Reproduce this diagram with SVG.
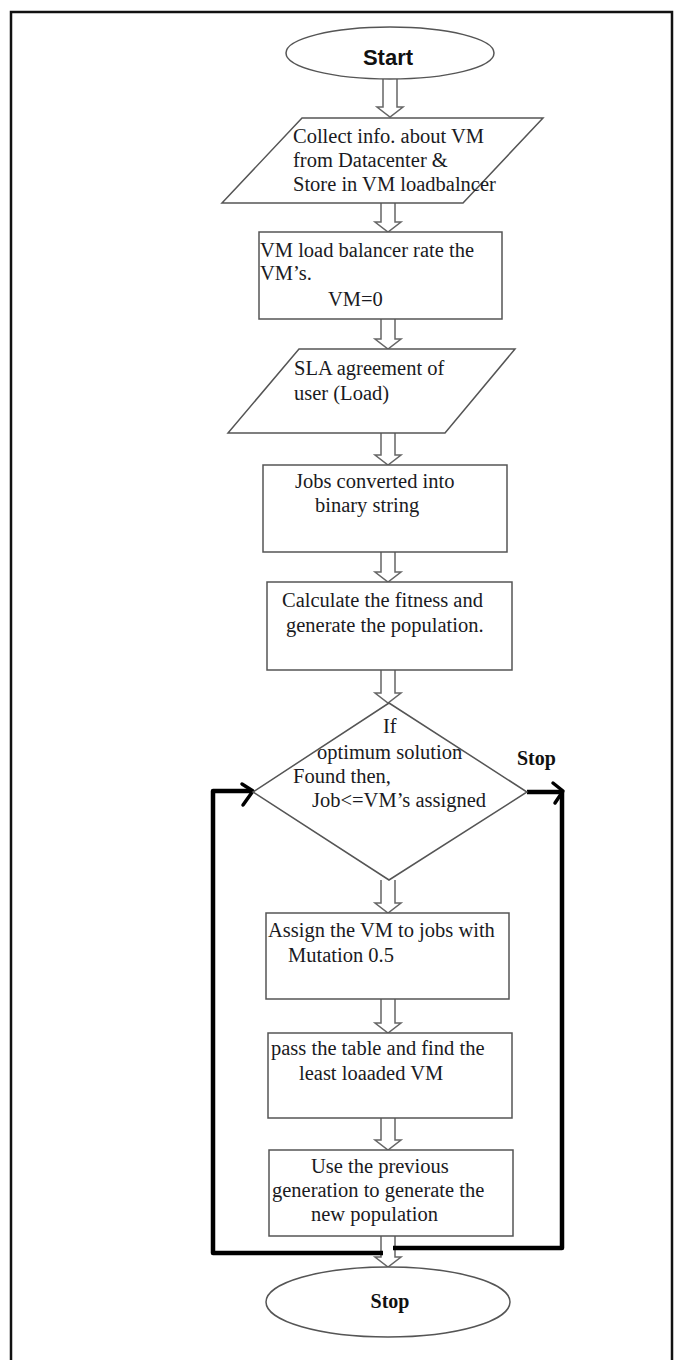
<svg xmlns="http://www.w3.org/2000/svg" width="682" height="1360" viewBox="0 0 682 1360">
<style>
.shape{fill:#fff;stroke:#555;stroke-width:1.5}
.barrow{fill:#fff;stroke:#666;stroke-width:1.5;stroke-linejoin:miter}
.loop{fill:none;stroke:#000;stroke-width:4.5;stroke-linejoin:round}
.head{fill:none;stroke:#000;stroke-width:3.5;stroke-linecap:round;stroke-linejoin:round}
.t{font-family:"Liberation Serif",serif;font-size:20.5px;fill:#1a1a22}
.tb{font-family:"Liberation Serif",serif;font-size:20px;font-weight:bold;fill:#111}
.ts{font-family:"Liberation Sans",Arial,sans-serif;font-size:22px;font-weight:bold;fill:#111}
</style>
<rect x="0" y="0" width="682" height="1360" fill="#fff"/>
<path d="M11,1360 V12 H672 V1360" fill="none" stroke="#111" stroke-width="2.5"/>

<g id="connectors">
  <path class="barrow" d="M383,79 V107 H377 L390,117 L403,107 H397 V79"/>
  <path class="barrow" d="M381,203 V222 H375 L388,232 L401,222 H395 V203"/>
  <path class="barrow" d="M381,319 V339 H375 L388,349 L401,339 H395 V319"/>
  <path class="barrow" d="M381,433 V455 H375 L388,465 L401,455 H395 V433"/>
  <path class="barrow" d="M381,552 V572 H375 L388,582 L401,572 H395 V552"/>
  <path class="barrow" d="M381,670 V693 H375 L388,703 L401,693 H395 V670"/>
  <path class="barrow" d="M381,880 V903 H375 L388,913 L401,903 H395 V880"/>
  <path class="barrow" d="M381,999 V1023 H375 L388,1033 L401,1023 H395 V999"/>
  <path class="barrow" d="M381,1118 V1140 H375 L388,1150 L401,1140 H395 V1118"/>
  <path class="barrow" d="M381,1236 V1257 H375 L388,1267 L401,1257 H395 V1236"/>
  <path class="loop" d="M383,1253 H213 V791 H251"/>
  <path class="head" d="M242,784 L253,791 L243,805"/>
  <path class="loop" d="M527,792 H562 V1248 H393"/>
  <path class="head" d="M553,783 L563,791 L555,803"/>
</g>

<g id="start">
  <ellipse class="shape" cx="390" cy="53" rx="104" ry="26"/>
  <text class="ts" x="388" y="65" text-anchor="middle">Start</text>
</g>

<g id="collect">
  <polygon class="shape" points="302,118 543,118 463,203 222,203"/>
  <text class="t" x="293" y="143">Collect info. about VM</text>
  <text class="t" x="293" y="167">from Datacenter &amp;</text>
  <text class="t" x="293" y="191">Store in VM loadbalncer</text>
</g>

<g id="rate">
  <rect class="shape" x="259" y="232" width="243" height="87"/>
  <text class="t" x="260" y="257">VM load balancer rate the</text>
  <text class="t" x="260" y="280">VM’s.</text>
  <text class="t" x="328" y="306">VM=0</text>
</g>

<g id="sla">
  <polygon class="shape" points="299,349 515,349 445,433 228,433"/>
  <text class="t" x="294" y="375">SLA agreement of</text>
  <text class="t" x="294" y="400">user (Load)</text>
</g>

<g id="jobs">
  <rect class="shape" x="263" y="465" width="244" height="87"/>
  <text class="t" x="295" y="488">Jobs converted into</text>
  <text class="t" x="315" y="512">binary string</text>
</g>

<g id="fitness">
  <rect class="shape" x="267" y="582" width="245" height="88"/>
  <text class="t" x="282" y="607">Calculate the fitness and</text>
  <text class="t" x="286" y="632">generate the population.</text>
</g>

<g id="decision">
  <polygon class="shape" points="389,703 527,792 389,880 253,792"/>
  <text class="t" x="383" y="733">If</text>
  <text class="t" x="317" y="759">optimum solution</text>
  <text class="t" x="293" y="783">Found then,</text>
  <text class="t" x="312" y="807">Job&lt;=VM’s assigned</text>
  <text class="tb" x="517" y="765">Stop</text>
</g>

<g id="assign">
  <rect class="shape" x="266" y="913" width="243" height="86"/>
  <text class="t" x="268" y="937">Assign the VM to jobs with</text>
  <text class="t" x="288" y="962">Mutation 0.5</text>
</g>

<g id="pass">
  <rect class="shape" x="268" y="1033" width="244" height="85"/>
  <text class="t" x="271" y="1055">pass the table and find the</text>
  <text class="t" x="299" y="1080">least loaaded VM</text>
</g>

<g id="generate">
  <rect class="shape" x="269" y="1150" width="244" height="86"/>
  <text class="t" x="311" y="1173">Use the previous</text>
  <text class="t" x="272" y="1197">generation to generate the</text>
  <text class="t" x="311" y="1221">new population</text>
</g>

<g id="stop">
  <ellipse class="shape" cx="388" cy="1302" rx="122" ry="35"/>
  <text class="tb" x="390" y="1308" text-anchor="middle">Stop</text>
</g>
</svg>
